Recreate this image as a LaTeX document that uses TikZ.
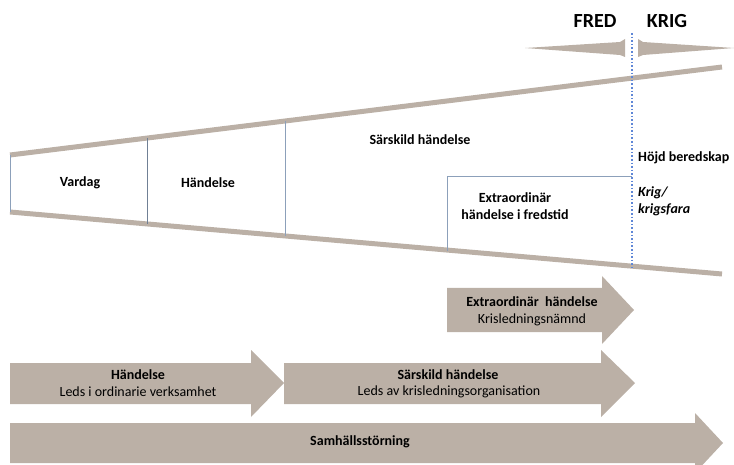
\documentclass[tikz,border=0pt]{standalone}
\usepackage{fontspec}
\setmainfont{Carlito}
\definecolor{taupe}{RGB}{187,176,166}
\definecolor{divider}{RGB}{140,160,186}
\definecolor{dotblue}{RGB}{95,135,215}

\begin{document}
\begin{tikzpicture}[x=1pt,y=-1pt,
  lbl/.style={font=\bfseries\fontsize{14}{17}\selectfont,align=center,inner sep=0},
  sub/.style={font=\fontsize{14}{17}\selectfont,align=center,inner sep=0},
  side/.style={font=\bfseries\fontsize{14}{17}\selectfont,anchor=west,inner sep=0},
  side it/.style={font=\bfseries\itshape\fontsize{14}{17}\selectfont,anchor=west,inner sep=0},
  big/.style={font=\bfseries\fontsize{20}{24}\selectfont,inner sep=0}]
\useasboundingbox (0,0) rectangle (734,465);
% funnel
\draw[taupe,line width=5pt] (10,155) -- (722,67);
\draw[taupe,line width=5pt] (10,212) -- (722,274);
\draw[divider] (10,155) -- (10,212);
\draw[divider!80!black] (147,138) -- (147,224);
\draw[divider] (285,121) -- (285,236);
\draw[divider] (447,251) -- (447,176) -- (632,176);
\draw[dotblue,line width=1.6pt,dotted] (632,33) -- (632,268);
% fred / krig
\fill[taupe] (525,48) -- (620,42) -- (625,39) -- (625,57) -- (620,55) -- cycle;
\fill[taupe] (734,48) -- (643,42) -- (638,39) -- (638,57) -- (643,55) -- cycle;
\node[big] (fred) at (595,21) {FRED};
\node[big] (krig) at (667,21) {KRIG};
% labels in the funnel
\node[lbl] (vardag) at (80,183) {Vardag};
\node[lbl] (handelse) at (208,183) {Händelse};
\node[lbl] (sarskild) at (420,140) {Särskild händelse};
\node[lbl] (extra) at (515,206) {Extraordinär\\händelse i fredstid};
\node[side] (hojd) at (638,158) {Höjd beredskap};
\node[side it] (krigfara) at (638,202) {\begin{tabular}{@{}l@{}}Krig/\\krigsfara\end{tabular}};
% block arrows
\fill[taupe] (447,288) -- (602,288) -- (602,276) -- (634,310) -- (602,344) -- (602,332) -- (447,332) -- cycle;
\fill[taupe] (10,363) -- (251,363) -- (251,350) -- (284,383) -- (251,417) -- (251,404) -- (10,404) -- cycle;
\fill[taupe] (284,363) -- (601,363) -- (601,350) -- (635,383) -- (601,417) -- (601,404) -- (284,404) -- cycle;
\fill[taupe] (10,423) -- (695,423) -- (695,413) -- (723,443) -- (695,473) -- (695,463) -- (10,463) -- cycle;
\node[lbl] (extrahead) at (532,302) {Extraordinär\ \ händelse};
\node[sub] (kln) at (532,320) {Krisledningsnämnd};
\node[lbl] (handelsehead) at (138,375) {Händelse};
\node[sub] (ordinarie) at (138,392) {Leds i ordinarie verksamhet};
\node[lbl] (sarskildhead) at (448,375) {Särskild händelse};
\node[sub] (klo) at (449,392) {Leds av krisledningsorganisation};
\node[lbl] (samhall) at (360,442) {Samhällsstörning};
\end{tikzpicture}
\end{document}
